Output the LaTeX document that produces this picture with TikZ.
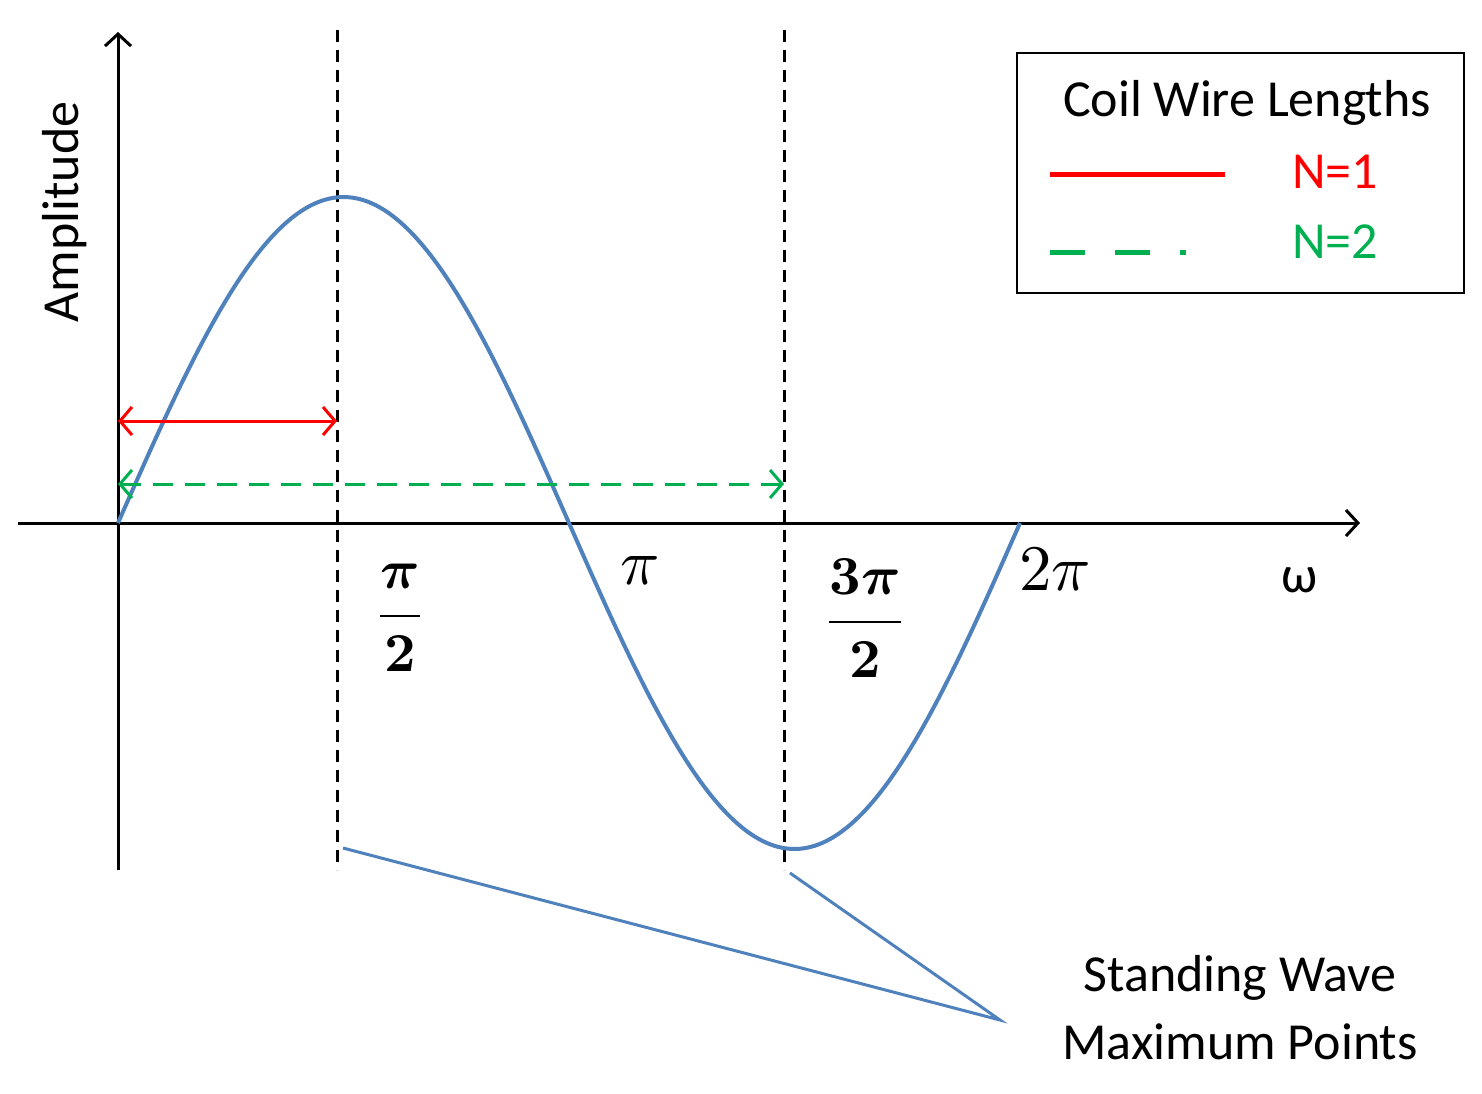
\documentclass[tikz,border=0pt]{standalone}
\usepackage{amsmath,amsbsy}
\usepackage{fontspec}
\setmainfont{Carlito}
\usetikzlibrary{arrows.meta}
\definecolor{wave}{RGB}{79,129,189}
\definecolor{gr}{RGB}{0,176,80}
\begin{document}
\begin{tikzpicture}[x=1pt,y=-1pt,
 txt/.style={font=\fontsize{52}{68}\selectfont},
 mth/.style={inner sep=0},
 tip/.style={-{Straight Barb[length=12pt,width=26pt,line width=3pt]}}]
\useasboundingbox (0,0) rectangle (1482,1093);
% axes
\coordinate (yb) at (118,870); \coordinate (yt) at (118,32);
\coordinate (xl) at (18,523); \coordinate (xr) at (1360,523);
\draw[line width=3pt,tip] (yb) -- (yt);
\draw[line width=3pt,tip] (xl) -- (xr);
% dashed
\coordinate (d1t) at (337,30); \coordinate (d1b) at (337,870);
\coordinate (d2t) at (784,30); \coordinate (d2b) at (784,870);
\draw[line width=3pt,dash pattern=on 12pt off 8pt] (d1t) -- (d1b);
\draw[line width=3pt,dash pattern=on 12pt off 8pt] (d2t) -- (d2b);
% wave
\draw[wave,line width=4pt,domain=0:360,samples=120,smooth] plot ({118+\x/360*902},{523-326*sin(\x)});
% arrows
\coordinate (ra) at (118,421); \coordinate (rb) at (337,421);
\draw[red,line width=3pt,{Straight Barb[length=12pt,width=28pt]}-{Straight Barb[length=12pt,width=28pt]}] (ra) -- (rb);
\coordinate (ga) at (118,484); \coordinate (gb) at (784,484);
\draw[gr,line width=3pt,dash pattern=on 20pt off 12pt,{Straight Barb[length=12pt,width=28pt]}-{Straight Barb[length=12pt,width=28pt]}] (ga) -- (gb);
% labels
\node[mth] (l1) at (400,618) {\scalebox{5.5}{$\boldsymbol{\dfrac{\pi}{2}}$}};
\node[mth] (l2) at (640,570) {\scalebox{6.5}{$\pi$}};
\node[mth] (l3) at (865,618) {\scalebox{5.5}{$\boldsymbol{\dfrac{3\pi}{2}}$}};
\node[mth] (l4) at (1055,570) {\scalebox{6.5}{$2\pi$}};
\node[txt] (om) at (1300,580) {ω};
\node[txt,rotate=90] (amp) at (65,212) {Amplitude};
% legend
\node[draw,line width=2.5pt,minimum width=447pt,minimum height=240pt] (leg) at (1240.5,173) {};
\node[txt] (lt) at (1247,103) {Coil Wire Lengths};
\coordinate (r1) at (1050,174); \coordinate (r2) at (1225,174);
\draw[red,line width=5pt] (r1) -- (r2);
\node[txt,text=red] (n1) at (1335,172) {N=1};
\coordinate (g1) at (1050,252); \coordinate (g2) at (1225,252);
\draw[gr,line width=5pt,dash pattern=on 35pt off 30pt on 35pt off 30pt on 6pt off 99pt] (g1) -- (g2);
\node[txt,text=gr] (n2) at (1335,242) {N=2};
% callout
\coordinate (c1) at (343,848); \coordinate (c2) at (790,873); \coordinate (cj) at (1000,1020);
\draw[wave,line width=3pt] (c1) -- (cj) -- (c2);
\node[txt,align=center] (sw) at (1240,1008) {Standing Wave\\Maximum Points};
\end{tikzpicture}
\end{document}
